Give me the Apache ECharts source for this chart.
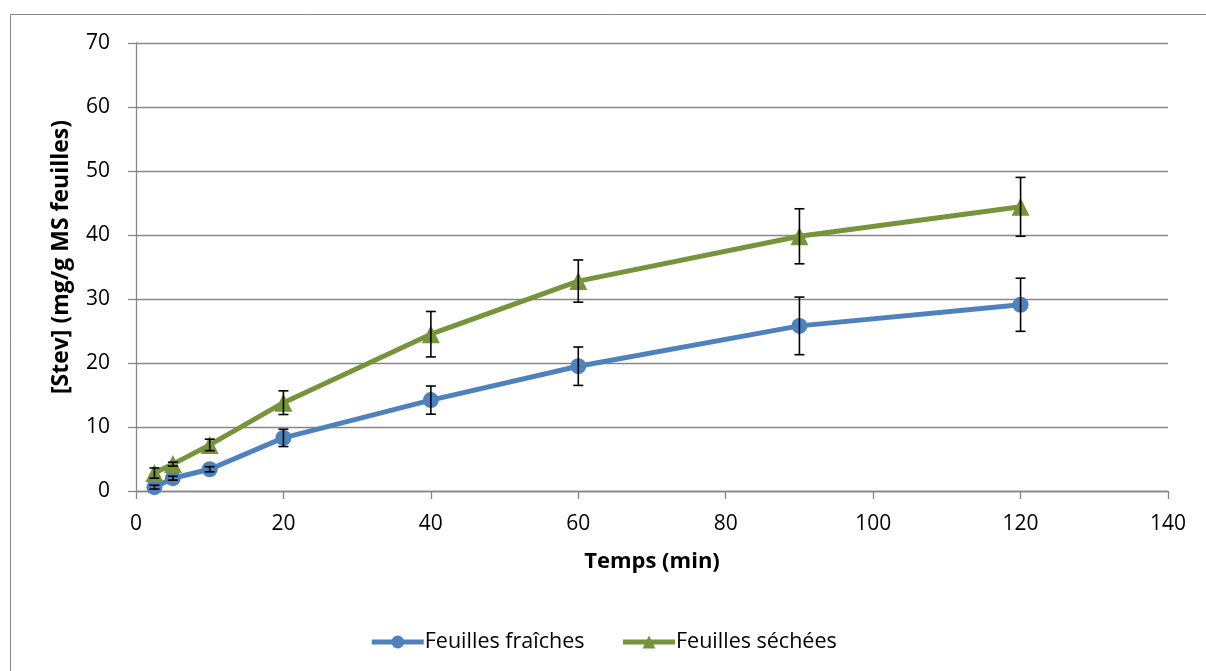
<!DOCTYPE html>
<html><head><meta charset="utf-8">
<script src="https://cdn.jsdelivr.net/npm/echarts@6/dist/echarts.min.js"></script>
<style>html,body{margin:0;padding:0;background:#fff}#c{width:1206px;height:671px}</style>
</head><body><div id="c"></div>
<script>
const times = [2.5, 5, 10, 20, 40, 60, 90, 120];
const fraiches = [0.6, 2.0, 3.4, 8.3, 14.2, 19.5, 25.8, 29.1];
const fraichesErr = [0.3, 0.3, 0.4, 1.35, 2.2, 3.0, 4.5, 4.15];
const sechees = [2.8, 4.2, 7.2, 13.8, 24.5, 32.8, 39.8, 44.4];
const secheesErr = [0.8, 0.3, 0.9, 1.85, 3.55, 3.3, 4.3, 4.6];
const xTicks = [0, 20, 40, 60, 80, 100, 120, 140];
const yTicks = [0, 10, 20, 30, 40, 50, 60, 70];
const names = ['Feuilles fraîches', 'Feuilles séchées'];

const FONT = 'Open Sans';
const blue = '#4F81BD', green = '#77933C', gridCol = '#878787';

function errData(vals, errs) {
  return times.map((t, i) => [t, vals[i] - errs[i], vals[i] + errs[i]]);
}
function errSeries(vals, errs) {
  return {
    type: 'custom', silent: true, z: 5,
    data: errData(vals, errs),
    renderItem: function (params, api) {
      const lo = api.coord([api.value(0), api.value(1)]);
      const hi = api.coord([api.value(0), api.value(2)]);
      const w = 5;
      const st = { stroke: '#000', lineWidth: 1.6 };
      return { type: 'group', children: [
        { type: 'line', shape: { x1: lo[0], y1: lo[1], x2: hi[0], y2: hi[1] }, style: st },
        { type: 'line', shape: { x1: lo[0] - w, y1: lo[1], x2: lo[0] + w, y2: lo[1] }, style: st },
        { type: 'line', shape: { x1: hi[0] - w, y1: hi[1], x2: hi[0] + w, y2: hi[1] }, style: st }
      ]};
    }
  };
}

const chart = echarts.init(document.getElementById('c'));
chart.setOption({
  animation: false,
  backgroundColor: '#fff',
  textStyle: { fontFamily: FONT },
  graphic: [{ type: 'rect', silent: true, shape: { x: 10.5, y: 14.5, width: 1300, height: 700 },
    style: { fill: 'none', stroke: '#868686', lineWidth: 1 } }],
  grid: { left: 136, right: 38, top: 43, bottom: 180 },
  xAxis: {
    type: 'value', min: 0, max: 140, interval: 20,
    name: 'Temps (min)', nameLocation: 'middle', nameGap: 60,
    nameTextStyle: { fontFamily: FONT, fontWeight: 'bold', fontSize: 22, color: '#000' },
    axisLine: { show: true, lineStyle: { color: gridCol, width: 1.3 } },
    axisTick: { show: true, length: 8, lineStyle: { color: gridCol, width: 1.3 } },
    axisLabel: { color: '#000', fontSize: 21, margin: 23, fontFamily: FONT,
      formatter: v => xTicks.includes(v) ? String(v) : '' },
    splitLine: { show: false }
  },
  yAxis: {
    type: 'value', min: 0, max: 70, interval: 10,
    name: '[Stev] (mg/g MS feuilles)', nameLocation: 'middle', nameGap: 63, nameRotate: 90,
    nameTextStyle: { fontFamily: FONT, fontWeight: 'bold', fontSize: 23, color: '#000', padding: [0, 0, 0, 20] },
    axisLine: { show: true, lineStyle: { color: gridCol, width: 1.3 } },
    axisTick: { show: true, length: 8, lineStyle: { color: gridCol, width: 1.3 } },
    axisLabel: { color: '#000', fontSize: 21, margin: 26, fontFamily: FONT,
      formatter: v => yTicks.includes(v) ? String(v) : '' },
    splitLine: { show: true, lineStyle: { color: gridCol, width: 1.3 } }
  },
  legend: {
    top: 626, left: 'center', itemWidth: 52, itemHeight: 16, itemGap: 36,
    lineStyle: { width: 5 },
    textStyle: { fontFamily: FONT, fontSize: 21.5, color: '#000', padding: [0, 0, 0, -4] },
    data: names
  },
  series: [
    { name: names[0], type: 'line', data: times.map((t, i) => [t, fraiches[i]]),
      symbol: 'circle', symbolSize: 16, z: 4,
      lineStyle: { color: blue, width: 5 }, itemStyle: { color: blue } },
    { name: names[1], type: 'line', data: times.map((t, i) => [t, sechees[i]]),
      symbol: 'triangle', symbolSize: 18, z: 4,
      lineStyle: { color: green, width: 5 }, itemStyle: { color: green } },
    errSeries(fraiches, fraichesErr),
    errSeries(sechees, secheesErr)
  ]
});
</script></body></html>
